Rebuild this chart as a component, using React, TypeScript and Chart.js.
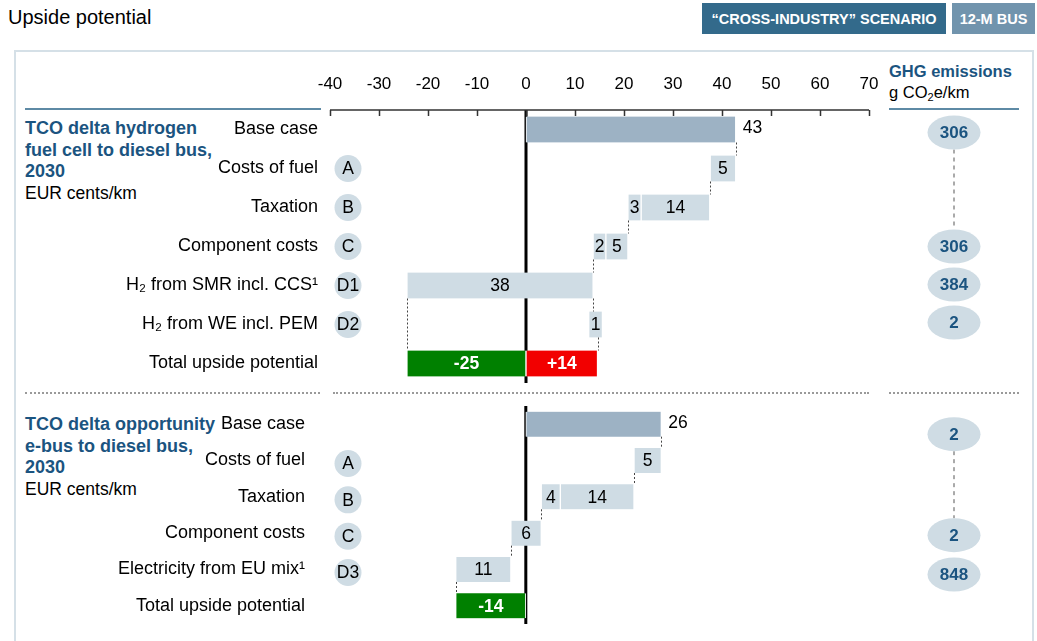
import React, { useEffect, useRef } from "react";
import { Chart, registerables } from "chart.js";

Chart.register(...registerables);

const FONT = '"Liberation Sans", Arial, Helvetica, sans-serif';

// ---------- Top panel: hydrogen fuel cell bus ----------
const hydroCategories = [
  "Base case",
  "Costs of fuel",
  "Taxation",
  "Component costs",
  "H\u2082 from SMR incl. CCS\u00b9",
  "H\u2082 from WE incl. PEM",
  "Total upside potential",
];
const hydroSegRow = [0, 1, 2, 2, 3, 3, 4, 5, 6, 6];
const hydroSegFrom = [0, 37.6, 23.5, 20.8, 16.3, 13.7, -24.3, 12.8, -24.3, 0];
const hydroSegTo = [42.8, 42.8, 37.5, 23.5, 20.8, 16.3, 13.7, 15.6, 0, 14.6];
const hydroSegLabel = ["43", "5", "14", "3", "5", "2", "38", "1", "-25", "+14"];
const hydroSegKind = ["base", "step", "step", "step", "step", "step", "step", "step", "neg", "pos"];
const hydroBadges = ["", "A", "B", "C", "D1", "D2", ""];
const hydroGhg = ["306", "", "", "306", "384", "2", ""];
const hydroGhgLink = [0, 3];
const hydroConnX = [42.8, 37.6, 20.8, 13.7, 13.7, -24.3, 14.6];
const hydroConnFromRow = [0, 1, 2, 3, 4, 4, 5];
const hydroConnToRow = [1, 2, 3, 4, 5, 6, 6];
const hydroAxisMin = -40;
const hydroAxisMax = 70;
const hydroAxisStep = 10;

// ---------- Bottom panel: opportunity e-bus ----------
const ebusCategories = [
  "Base case",
  "Costs of fuel",
  "Taxation",
  "Component costs",
  "Electricity from EU mix\u00b9",
  "Total upside potential",
];
const ebusSegRow = [0, 1, 2, 2, 3, 4, 5];
const ebusSegFrom = [0, 21.0, 6.7, 3.0, -2.9, -13.6, -13.6];
const ebusSegTo = [26.3, 26.3, 21.0, 6.7, 3.0, -2.9, 0];
const ebusSegLabel = ["26", "5", "14", "4", "6", "11", "-14"];
const ebusSegKind = ["base", "step", "step", "step", "step", "step", "neg"];
const ebusBadges = ["", "A", "B", "C", "D3", ""];
const ebusGhg = ["2", "", "", "2", "848", ""];
const ebusGhgLink = [0, 3];
const ebusConnX = [26.3, 21.0, 3.0, -2.9, -13.6];
const ebusConnFromRow = [0, 1, 2, 3, 4];
const ebusConnToRow = [1, 2, 3, 4, 5];
const ebusAxisMin = -38;
const ebusAxisMax = 66.6;

// ---------- styles ----------
const KIND_COLORS: Record<string, string> = {
  base: "#9db2c4",
  step: "#cfdce4",
  neg: "#008000",
  pos: "#f20000",
};
const BLUE_TEXT = "#1b5480";
const BUBBLE = "#cfdce4";

type PanelCfg = {
  categories: string[];
  segRow: number[];
  segFrom: number[];
  segTo: number[];
  segLabel: string[];
  segKind: string[];
  badges: string[];
  ghg: string[];
  ghgLink: number[];
  ghgNudge: number[];
  connX: number[];
  connFrom: number[];
  connTo: number[];
  min: number;
  max: number;
  showAxis: boolean;
  barThickness: number;
  padTop: number;
  padBottom: number;
  axisHeight: number;
  labelPad: number;
  badgeDy: number;
  canvasTop: number;
  canvasHeight: number;
};

function makeOverlay(cfg: PanelCfg) {
  return {
    id: "overlay",
    beforeDatasetsDraw(chart: any) {
      const ctx: CanvasRenderingContext2D = chart.ctx;
      const xs = chart.scales.x;
      const area = chart.chartArea;
      // zero line (behind the bars)
      ctx.save();
      ctx.fillStyle = "#000";
      const x0 = xs.getPixelForValue(0);
      ctx.fillRect(x0 - 1.5, area.top, 3, area.bottom - area.top);
      ctx.restore();
    },
    afterDatasetsDraw(chart: any) {
      const ctx: CanvasRenderingContext2D = chart.ctx;
      const xs = chart.scales.x;
      const ys = chart.scales.y;
      const area = chart.chartArea;
      const half = cfg.barThickness / 2;
      const rowY = (r: number) => ys.getPixelForValue(r);

      // waterfall connectors
      ctx.save();
      ctx.strokeStyle = "#444";
      ctx.lineWidth = 1;
      ctx.setLineDash([2, 2]);
      cfg.connX.forEach((v, i) => {
        const x = Math.round(xs.getPixelForValue(v)) + 0.5;
        const y1 = rowY(cfg.connFrom[i]) + half;
        const y2 = rowY(cfg.connTo[i]) - half;
        ctx.beginPath();
        ctx.moveTo(x, y1);
        ctx.lineTo(x, y2);
        ctx.stroke();
      });
      ctx.restore();

      // value labels
      ctx.save();
      ctx.textBaseline = "middle";
      cfg.segLabel.forEach((lab, i) => {
        const x1 = xs.getPixelForValue(cfg.segFrom[i]);
        const x2 = xs.getPixelForValue(cfg.segTo[i]);
        const y = rowY(cfg.segRow[i]) + 1;
        const kind = cfg.segKind[i];
        if (kind === "base") {
          ctx.font = `17.5px ${FONT}`;
          ctx.fillStyle = "#000";
          ctx.textAlign = "left";
          ctx.fillText(lab, Math.max(x1, x2) + 7, y - 2);
        } else if (kind === "step") {
          ctx.font = `17.5px ${FONT}`;
          ctx.fillStyle = "#000";
          ctx.textAlign = "center";
          ctx.fillText(lab, (x1 + x2) / 2, y);
        } else {
          ctx.font = `bold 17.5px ${FONT}`;
          ctx.fillStyle = "#fff";
          ctx.textAlign = "center";
          ctx.fillText(lab, (x1 + x2) / 2, y);
        }
      });
      ctx.restore();

      // axis line with downward tick marks
      if (cfg.showAxis) {
        ctx.save();
        ctx.strokeStyle = "#333";
        ctx.lineWidth = 1.5;
        ctx.beginPath();
        ctx.moveTo(area.left, area.top);
        ctx.lineTo(area.right, area.top);
        xs.ticks.forEach((t: any) => {
          const x = Math.round(xs.getPixelForValue(t.value)) + 0.5;
          ctx.moveTo(x, area.top);
          ctx.lineTo(x, area.top + 6);
        });
        ctx.stroke();
        ctx.restore();
      }

      // lever badges (A, B, C, D...)
      ctx.save();
      ctx.textAlign = "center";
      ctx.textBaseline = "middle";
      ctx.font = `17.5px ${FONT}`;
      cfg.badges.forEach((b, r) => {
        if (!b) return;
        const cx = area.left + 18;
        const cy = rowY(r) + cfg.badgeDy;
        ctx.fillStyle = BUBBLE;
        ctx.beginPath();
        ctx.arc(cx, cy, 13.5, 0, Math.PI * 2);
        ctx.fill();
        ctx.fillStyle = "#000";
        ctx.fillText(b, cx, cy + 1);
      });
      ctx.restore();

      // GHG emissions bubbles
      ctx.save();
      const gx = area.right + 85;
      const gy = (r: number) => rowY(r) + (cfg.ghgNudge[r] || 0);
      ctx.strokeStyle = "#aaa";
      ctx.lineWidth = 2;
      ctx.setLineDash([4, 4]);
      ctx.beginPath();
      ctx.moveTo(gx, gy(cfg.ghgLink[0]) + 17);
      ctx.lineTo(gx, gy(cfg.ghgLink[1]) - 17);
      ctx.stroke();
      ctx.setLineDash([]);
      ctx.textAlign = "center";
      ctx.textBaseline = "middle";
      ctx.font = `bold 17px ${FONT}`;
      cfg.ghg.forEach((g, r) => {
        if (!g) return;
        const cy = gy(r);
        ctx.fillStyle = BUBBLE;
        ctx.beginPath();
        ctx.ellipse(gx, cy, 26.5, 17, 0, 0, Math.PI * 2);
        ctx.fill();
        ctx.fillStyle = BLUE_TEXT;
        ctx.fillText(g, gx, cy + 1);
      });
      ctx.restore();
    },
  };
}

function Panel({ cfg }: { cfg: PanelCfg }) {
  const ref = useRef<HTMLCanvasElement>(null);
  useEffect(() => {
    if (!ref.current) return;
    const data = cfg.segRow.map((r, i) => ({
      y: cfg.categories[r],
      x: [cfg.segFrom[i], cfg.segTo[i]],
    }));
    const chart = new Chart(ref.current, {
      type: "bar",
      data: {
        labels: cfg.categories,
        datasets: [
          {
            data: data as any,
            backgroundColor: cfg.segKind.map((k) => KIND_COLORS[k]),
            borderColor: "#ffffff",
            borderWidth: { left: 1, right: 1, top: 0, bottom: 0 } as any,
            borderSkipped: false,
            barThickness: cfg.barThickness,
            grouped: false,
          } as any,
        ],
      },
      options: {
        indexAxis: "y",
        responsive: false,
        maintainAspectRatio: false,
        animation: false,
        devicePixelRatio: 1,
        layout: { padding: { left: 0, right: 168, top: cfg.padTop, bottom: cfg.padBottom } },
        plugins: { legend: { display: false }, tooltip: { enabled: false } },
        scales: {
          x: {
            type: "linear",
            position: "top",
            min: cfg.min,
            max: cfg.max,
            display: cfg.showAxis,
            grid: { display: false, drawTicks: false },
            border: { display: false },
            ticks: {
              stepSize: hydroAxisStep,
              color: "#000",
              font: { family: FONT, size: 17 },
              padding: 15,
            },
            afterFit: (s: any) => {
              s.height = cfg.axisHeight;
              s.paddingLeft = 0;
              s.paddingRight = 0;
            },
          },
          y: {
            type: "category",
            grid: { display: false, drawTicks: false },
            border: { display: false },
            ticks: {
              color: "#000",
              font: { family: FONT, size: 18 },
              padding: cfg.labelPad,
              autoSkip: false,
            },
            afterFit: (s: any) => {
              s.width = 330;
              s.paddingTop = 0;
              s.paddingBottom = 0;
            },
          },
        },
      } as any,
      plugins: [makeOverlay(cfg)],
    });
    return () => chart.destroy();
  }, []);
  return (
    <canvas
      ref={ref}
      width={1037}
      height={cfg.canvasHeight}
      style={{ position: "absolute", left: 0, top: cfg.canvasTop, width: 1037, height: cfg.canvasHeight }}
    />
  );
}

const topCfg: PanelCfg = {
  categories: hydroCategories,
  segRow: hydroSegRow,
  segFrom: hydroSegFrom,
  segTo: hydroSegTo,
  segLabel: hydroSegLabel,
  segKind: hydroSegKind,
  badges: hydroBadges,
  ghg: hydroGhg,
  ghgLink: hydroGhgLink,
  ghgNudge: [3, 0, 0, 0, -1, -2, 0],
  connX: hydroConnX,
  connFrom: hydroConnFromRow,
  connTo: hydroConnToRow,
  min: hydroAxisMin,
  max: hydroAxisMax,
  showAxis: true,
  barThickness: 26,
  padTop: 0,
  padBottom: 8,
  axisHeight: 54,
  labelPad: 12,
  badgeDy: 0,
  canvasTop: 56,
  canvasHeight: 335,
};

const bottomCfg: PanelCfg = {
  categories: ebusCategories,
  segRow: ebusSegRow,
  segFrom: ebusSegFrom,
  segTo: ebusSegTo,
  segLabel: ebusSegLabel,
  segKind: ebusSegKind,
  badges: ebusBadges,
  ghg: ebusGhg,
  ghgLink: ebusGhgLink,
  ghgNudge: [10, 0, 0, 2, 5, 0],
  connX: ebusConnX,
  connFrom: ebusConnFromRow,
  connTo: ebusConnToRow,
  min: ebusAxisMin,
  max: ebusAxisMax,
  showAxis: false,
  barThickness: 25,
  padTop: 11,
  padBottom: 6,
  axisHeight: 0,
  labelPad: 25,
  badgeDy: 3,
  canvasTop: 395,
  canvasHeight: 235,
};

const dotted = (left: number, width: number): React.CSSProperties => ({
  position: "absolute",
  left,
  top: 392,
  width,
  height: 0,
  borderTop: "2px dotted #9a9a9a",
});

export default function App() {
  return (
    <div
      style={{
        position: "fixed",
        left: 0,
        top: 0,
        width: 1037,
        height: 641,
        overflow: "hidden",
        background: "#fff",
        fontFamily: FONT,
        color: "#000",
      }}
    >
      <div style={{ position: "absolute", left: 8, top: 5, fontSize: 20, lineHeight: "24px" }}>Upside potential</div>
      <div
        style={{
          position: "absolute",
          left: 702,
          top: 3,
          width: 244,
          height: 31,
          background: "#336a8b",
          color: "#fff",
          fontWeight: "bold",
          fontSize: 14.5,
          display: "flex",
          alignItems: "center",
          justifyContent: "center",
        }}
      >
        {"\u201cCROSS-INDUSTRY\u201d SCENARIO"}
      </div>
      <div
        style={{
          position: "absolute",
          left: 952,
          top: 3,
          width: 83,
          height: 31,
          background: "#7194ad",
          color: "#fff",
          fontWeight: "bold",
          fontSize: 14.5,
          display: "flex",
          alignItems: "center",
          justifyContent: "center",
        }}
      >
        12-M BUS
      </div>
      <div
        style={{
          position: "absolute",
          left: 14,
          top: 50,
          width: 1020,
          height: 700,
          border: "2.5px solid #d5e0e7",
          boxSizing: "border-box",
        }}
      />
      <div style={{ position: "absolute", left: 25, top: 108, width: 296, height: 2, background: "#5e8aa5" }} />
      <div style={{ position: "absolute", left: 889, top: 108, width: 130, height: 2, background: "#5e8aa5" }} />
      <div style={{ position: "absolute", left: 889, top: 61, fontSize: 16.5, lineHeight: "21px" }}>
        <div style={{ fontWeight: "bold", color: BLUE_TEXT }}>GHG emissions</div>
        <div>
          g CO<sub style={{ fontSize: 11, verticalAlign: "-3px", lineHeight: 0 }}>2</sub>e/km
        </div>
      </div>
      <div style={{ position: "absolute", left: 25, top: 118, fontSize: 18, lineHeight: "21.5px" }}>
        <div style={{ fontWeight: "bold", color: BLUE_TEXT }}>TCO delta hydrogen</div>
        <div style={{ fontWeight: "bold", color: BLUE_TEXT }}>fuel cell to diesel bus,</div>
        <div style={{ fontWeight: "bold", color: BLUE_TEXT }}>2030</div>
        <div style={{ fontSize: 17.5 }}>EUR cents/km</div>
      </div>
      <div style={{ position: "absolute", left: 25, top: 414, fontSize: 18, lineHeight: "21.5px" }}>
        <div style={{ fontWeight: "bold", color: BLUE_TEXT }}>TCO delta opportunity</div>
        <div style={{ fontWeight: "bold", color: BLUE_TEXT }}>e-bus to diesel bus,</div>
        <div style={{ fontWeight: "bold", color: BLUE_TEXT }}>2030</div>
        <div style={{ fontSize: 17.5 }}>EUR cents/km</div>
      </div>
      <div style={dotted(25, 295)} />
      <div style={dotted(333, 536)} />
      <div style={dotted(889, 130)} />
      <Panel cfg={topCfg} />
      <Panel cfg={bottomCfg} />
    </div>
  );
}
